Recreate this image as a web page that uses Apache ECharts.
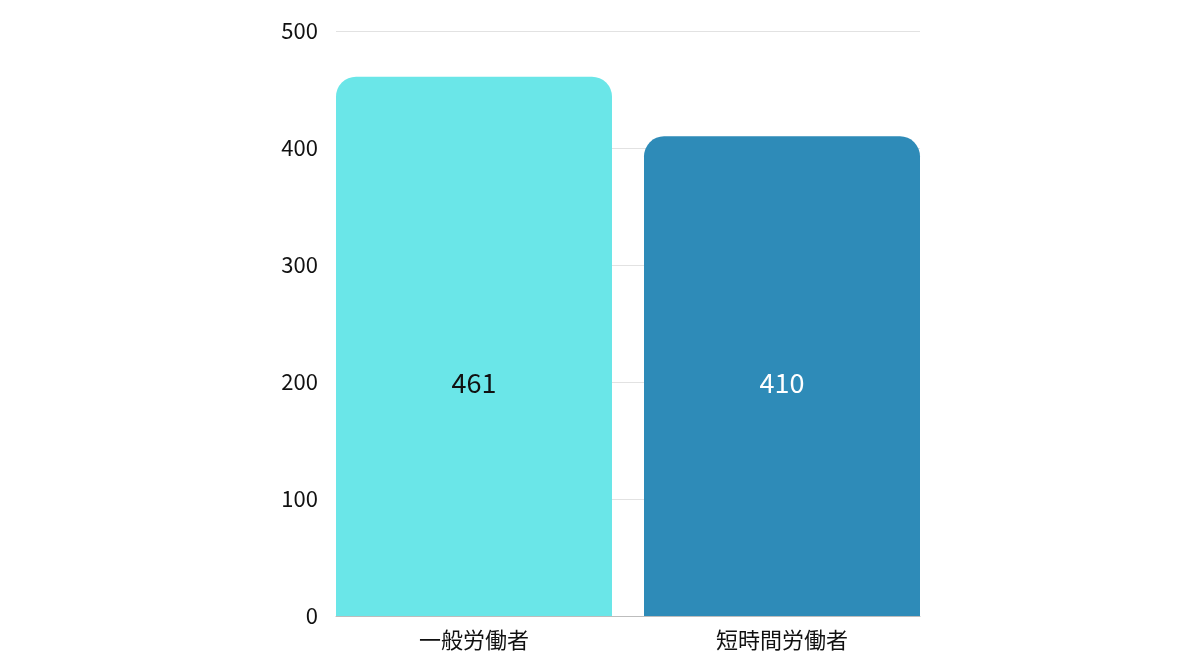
<!DOCTYPE html>
<html>
<head>
<meta charset="utf-8">
<script src="https://cdn.jsdelivr.net/npm/echarts@6/dist/echarts.min.js"></script>
<style>
  html, body { margin: 0; padding: 0; background: #fff; }
  #chart { width: 1200px; height: 672px; }
</style>
</head>
<body>
<div id="chart"></div>
<script>
var categories = ["一般労働者", "短時間労働者"];
var values = [461, 410];
var barColors = ["#6ae6e8", "#2e8bb8"];
var labelColors = ["#111111", "#ffffff"];

function InitChart() {
  var myChart = echarts.init(document.getElementById("chart"));
  var font = "'Noto Sans CJK JP', 'Noto Sans', sans-serif";

  // one series per category so the bars sit flush with the grid edges
  var series = values.map(function (v, i) {
    var data = values.map(function (x, j) {
      return j === i ? x : "-";
    });
    return {
      type: "bar",
      barWidth: 276,
      barGap: "-94.2%",
      barCategoryGap: 0,
      data: data,
      itemStyle: { color: barColors[i], borderRadius: [20, 20, 0, 0] },
      label: {
        show: true,
        position: "insideBottom",
        distance: 220,
        color: labelColors[i],
        fontSize: 27,
        fontFamily: font,
      },
    };
  });

  var option = {
    animation: false,
    grid: {
      left: 336,
      right: 280,
      top: 31,
      bottom: 56,
      containLabel: false,
    },
    xAxis: {
      type: "category",
      data: categories,
      axisTick: { show: false },
      axisLine: { lineStyle: { color: "#bdbdbd", width: 1 } },
      axisLabel: {
        color: "#111",
        fontSize: 22,
        fontFamily: font,
        margin: 13,
        formatter: function (val, idx) {
          return "{c" + idx + "|" + val + "}";
        },
        rich: {
          c0: { fontSize: 22, fontFamily: font, color: "#111", padding: [0, 16, 0, 0] },
          c1: { fontSize: 22, fontFamily: font, color: "#111", padding: [0, 0, 0, 16] },
        },
      },
    },
    yAxis: {
      type: "value",
      min: 0,
      max: 500,
      interval: 100,
      axisLine: { show: false },
      axisTick: { show: false },
      splitLine: { lineStyle: { color: "#e2e2e2", width: 1 } },
      axisLabel: {
        color: "#111",
        fontSize: 22,
        fontFamily: font,
        margin: 18,
      },
    },
    series: series,
  };
  myChart.setOption(option);
}

InitChart();
</script>
</body>
</html>
